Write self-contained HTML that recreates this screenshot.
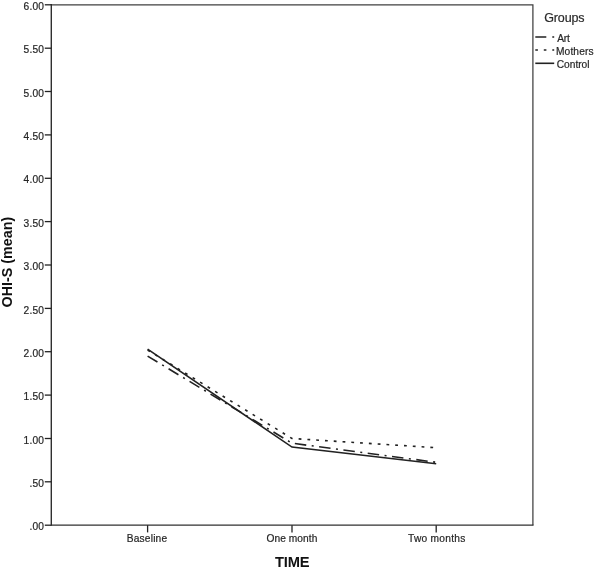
<!DOCTYPE html>
<html lang="en"><head><meta charset="utf-8"><title>OHI-S (mean) by TIME</title>
<style>
html,body{margin:0;padding:0;background:#fff;}
body{width:596px;height:569px;overflow:hidden;}
svg{display:block;font-family:"Liberation Sans",Arial,sans-serif;}
.tl{font-size:10.2px;fill:#262626;stroke:#262626;stroke-width:.2;}
.ax{stroke:#303030;stroke-width:1.4;fill:none;}
.fr{stroke:#404040;stroke-width:1.25;fill:none;}
.tk{stroke:#222;stroke-width:1.3;}
.ln{stroke:#222;stroke-width:1.6;fill:none;}
</style></head><body>
<svg width="596" height="569" viewBox="0 0 596 569">
<rect width="596" height="569" fill="#fff"/>
<path class="fr" d="M51.3,4.8 H532.9 V525.2"/>
<path class="ax" d="M51.3,4.1 V525.8000000000001"/>
<path class="ax" style="stroke-width:1.2" d="M51.3,525.2 H533.5"/>
<line class="tk" x1="44.8" x2="51.3" y1="4.8" y2="4.8"/>
<text class="tl" x="23.50" y="9.9" letter-spacing="0.217">6.00</text>
<line class="tk" x1="44.8" x2="51.3" y1="48.2" y2="48.2"/>
<text class="tl" x="23.50" y="53.3" letter-spacing="0.217">5.50</text>
<line class="tk" x1="44.8" x2="51.3" y1="91.5" y2="91.5"/>
<text class="tl" x="23.50" y="96.6" letter-spacing="0.217">5.00</text>
<line class="tk" x1="44.8" x2="51.3" y1="134.9" y2="134.9"/>
<text class="tl" x="23.50" y="140.0" letter-spacing="0.217">4.50</text>
<line class="tk" x1="44.8" x2="51.3" y1="178.3" y2="178.3"/>
<text class="tl" x="23.50" y="183.4" letter-spacing="0.217">4.00</text>
<line class="tk" x1="44.8" x2="51.3" y1="221.6" y2="221.6"/>
<text class="tl" x="23.50" y="226.7" letter-spacing="0.217">3.50</text>
<line class="tk" x1="44.8" x2="51.3" y1="265.0" y2="265.0"/>
<text class="tl" x="23.50" y="270.1" letter-spacing="0.217">3.00</text>
<line class="tk" x1="44.8" x2="51.3" y1="308.4" y2="308.4"/>
<text class="tl" x="23.50" y="313.5" letter-spacing="0.217">2.50</text>
<line class="tk" x1="44.8" x2="51.3" y1="351.7" y2="351.7"/>
<text class="tl" x="23.50" y="356.8" letter-spacing="0.217">2.00</text>
<line class="tk" x1="44.8" x2="51.3" y1="395.1" y2="395.1"/>
<text class="tl" x="23.50" y="400.2" letter-spacing="0.217">1.50</text>
<line class="tk" x1="44.8" x2="51.3" y1="438.5" y2="438.5"/>
<text class="tl" x="23.50" y="443.6" letter-spacing="0.217">1.00</text>
<line class="tk" x1="44.8" x2="51.3" y1="481.8" y2="481.8"/>
<text class="tl" x="29.40" y="486.9" letter-spacing="0.217">.50</text>
<line class="tk" x1="44.8" x2="51.3" y1="525.2" y2="525.2"/>
<text class="tl" x="29.40" y="530.3" letter-spacing="0.217">.00</text>
<line class="tk" x1="147.6" x2="147.6" y1="525.2" y2="532.4000000000001"/>
<text class="tl" x="126.70" y="542.3" letter-spacing="0.193">Baseline</text>
<line class="tk" x1="292.0" x2="292.0" y1="525.2" y2="532.4000000000001"/>
<text class="tl" x="266.45" y="542.3" letter-spacing="0.062">One month</text>
<line class="tk" x1="436.2" x2="436.2" y1="525.2" y2="532.4000000000001"/>
<text class="tl" x="407.95" y="542.3" letter-spacing="0.283">Two months</text>
<text x="274.95" y="566.6" font-size="14.7" font-weight="bold" fill="#111" letter-spacing="-0.117">TIME</text>
<text transform="rotate(-90)" x="-307.40" y="11.7" font-size="14.3" font-weight="bold" fill="#111" letter-spacing="0.000">OHI-S (mean)</text>
<polyline class="ln" stroke-dasharray="11.5 5.5 2 5.5" points="147.6,356.1 292.0,443.2 436.2,462.3"/>
<polyline class="ln" stroke-dasharray="2.8 6" points="147.6,350.0 292.0,438.5 436.2,447.7"/>
<polyline class="ln" points="147.6,349.1 292.0,447.1 436.2,463.8"/>
<text x="544.20" y="22.3" font-size="12.5" fill="#2a2a2a" stroke="#2a2a2a" stroke-width=".2" letter-spacing="-0.130">Groups</text>
<line class="ln" stroke-dasharray="11 6 2 6" x1="535.3" x2="554.2" y1="37" y2="37"/>
<line class="ln" stroke-dasharray="2.6 5.9" x1="535.3" x2="554.2" y1="50" y2="50"/>
<line class="ln" x1="535.3" x2="554.2" y1="63.3" y2="63.3"/>
<text class="tl" x="557.20" y="41.7" letter-spacing="-0.225">Art</text>
<text class="tl" x="556.00" y="54.7" letter-spacing="0.125">Mothers</text>
<text class="tl" x="556.70" y="68.1" letter-spacing="0.000">Control</text>
</svg></body></html>
